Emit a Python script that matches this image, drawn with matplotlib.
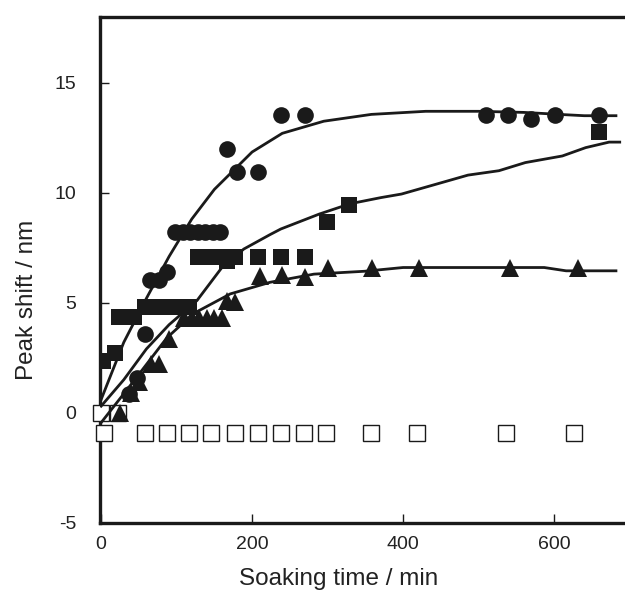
import matplotlib
matplotlib.use('Agg')
import matplotlib.pyplot as plt

plt.rcParams['font.family'] = ['Liberation Sans', 'DejaVu Sans']
plt.rcParams['axes.unicode_minus'] = False

# filled circles
circ_x = [37, 47, 58, 65, 76, 87, 98, 108, 118, 128, 138, 148, 158, 167, 180, 208, 238, 270, 510, 539, 569, 601, 660]
circ_y = [0.85, 1.6, 3.6, 6.05, 6.05, 6.4, 8.2, 8.2, 8.2, 8.2, 8.2, 8.2, 8.2, 12.0, 10.95, 10.95, 13.55, 13.55, 13.55, 13.55, 13.35, 13.55, 13.55]

# filled squares
sq_x = [3, 18, 24, 34, 44, 58, 68, 78, 88, 98, 108, 116, 128, 138, 148, 158, 167, 178, 208, 238, 270, 299, 329, 660]
sq_y = [2.35, 2.7, 4.35, 4.35, 4.35, 4.8, 4.8, 4.8, 4.8, 4.8, 4.8, 4.8, 7.06, 7.06, 7.06, 7.06, 6.9, 7.06, 7.06, 7.06, 7.06, 8.67, 9.46, 12.75]

# filled triangles
tri_x = [25, 40, 50, 66, 76, 90, 110, 120, 130, 140, 150, 160, 167, 178, 210, 239, 270, 300, 359, 421, 541, 632]
tri_y = [0.0, 0.9, 1.4, 2.2, 2.2, 3.35, 4.3, 4.3, 4.3, 4.3, 4.3, 4.3, 5.1, 5.05, 6.2, 6.25, 6.15, 6.6, 6.6, 6.6, 6.6, 6.6]

# open squares
open_x = [0, 22, 4, 58, 87, 117, 146, 177, 208, 238, 269, 298, 357, 418, 537, 627]
open_y = [0.0, 0.0, -0.9, -0.9, -0.9, -0.9, -0.9, -0.9, -0.9, -0.9, -0.9, -0.9, -0.9, -0.9, -0.9, -0.9]

# fitted curves
fit_c_x = [0, 30, 60, 90, 120, 150, 175, 200, 240, 295, 358, 430, 500, 560, 612, 640, 682]
fit_c_y = [0.6, 3.2, 5.2, 7.1, 8.8, 10.15, 11.0, 11.85, 12.7, 13.25, 13.56, 13.7, 13.7, 13.65, 13.55, 13.5, 13.5]

fit_s_x = [0, 30, 60, 90, 127, 160, 189, 224, 238, 289, 330, 371, 398, 440, 486, 527, 562, 611, 642, 673, 687]
fit_s_y = [0.3, 1.5, 2.9, 4.0, 5.1, 6.6, 7.44, 8.1, 8.35, 9.03, 9.5, 9.78, 9.94, 10.35, 10.8, 11.0, 11.37, 11.67, 12.05, 12.3, 12.3]

fit_t_x = [0, 40, 87, 122, 171, 224, 282, 349, 400, 450, 587, 616, 682]
fit_t_y = [-0.45, 1.3, 3.4, 4.5, 5.4, 5.93, 6.3, 6.43, 6.6, 6.6, 6.6, 6.45, 6.45]

ink = '#1a1a1a'

fig = plt.figure(figsize=(6.25, 5.9), dpi=100)
ax = fig.add_axes([0.16, 0.114, 0.84, 0.8577])

ax.plot(open_x, open_y, 's', ms=11, mfc='white', mec=ink, mew=1.0, zorder=3, clip_on=False)
ax.plot(circ_x, circ_y, 'o', ms=12, color=ink, mew=0, zorder=3)
ax.plot(sq_x, sq_y, 's', ms=12, color=ink, mew=0, zorder=3)
ax.plot(tri_x, tri_y, '^', ms=13, color=ink, mew=0, zorder=3)

for fx, fy in [(fit_c_x, fit_c_y), (fit_s_x, fit_s_y), (fit_t_x, fit_t_y)]:
    ax.plot(fx, fy, '-', color=ink, lw=2.0, zorder=4)

ax.set_xlim(-1.5, 694)
ax.set_ylim(-5, 18)
ax.set_xticks([0, 200, 400, 600])
ax.set_yticks([-5, 0, 5, 10, 15])

ax.spines['right'].set_visible(False)
for s in ['left', 'top', 'bottom']:
    ax.spines[s].set_linewidth(2.4)
    ax.spines[s].set_color(ink)

ax.tick_params(direction='in', length=6.5, width=1.0, color=ink, labelsize=14, labelcolor='#222222')
ax.tick_params(axis='x', pad=9.5)
ax.tick_params(axis='y', pad=17)

ax.set_xlabel('Soaking time / min', fontsize=17.5, color='#222222')
ax.set_ylabel('Peak shift / nm', fontsize=17.5, color='#222222')
ax.xaxis.set_label_coords(0.454, -0.089)
ax.yaxis.set_label_coords(-0.118, 0.44)

fig.savefig('out.png', dpi=100)
